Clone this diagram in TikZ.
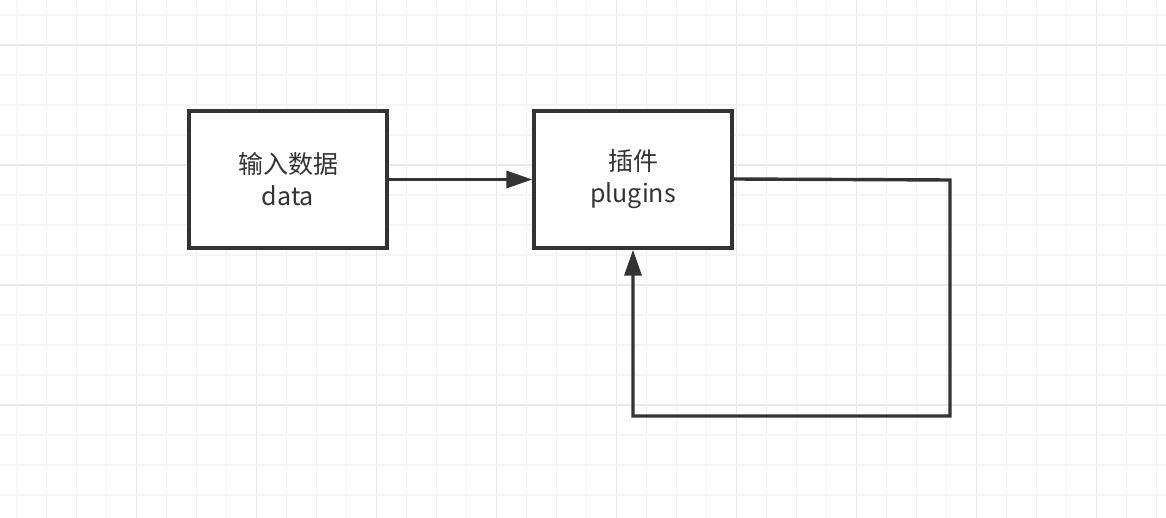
\documentclass[tikz,border=0pt]{standalone}
\usepackage{fontspec}
\setmainfont{Noto Sans CJK SC}
\usetikzlibrary{arrows.meta}
\definecolor{ink}{HTML}{333333}
\definecolor{gridminor}{HTML}{F4F4F4}
\definecolor{gridmajor}{HTML}{EAEAEA}
\tikzset{
  box/.style={draw=ink, line width=3.4pt, fill=white, minimum width=198pt, minimum height=137pt, inner sep=0pt, align=center, text=ink, font=\fontsize{25}{32}\selectfont},
  conn/.style={draw=ink, line width=3.4pt, -{Triangle[length=26pt,width=17pt]}},
}
\begin{document}
\begin{tikzpicture}[x=1pt,y=-1pt]
\useasboundingbox (0,0) rectangle (1166,518);
\fill[white] (0,0) rectangle (1166,518);
% minor grid
\foreach \x in {0,...,38} {
  \draw[gridminor, line width=1.3pt] ({16.7+30*\x},0) -- ({16.7+30*\x},518);
}
\foreach \y in {0,...,17} {
  \draw[gridminor, line width=1.3pt] (0,{15+30*\y}) -- (1166,{15+30*\y});
}
% major grid
\foreach \x in {0,...,8} {
  \draw[gridmajor, line width=1.5pt] ({136.7+120*\x},0) -- ({136.7+120*\x},518);
}
\foreach \y in {0,...,3} {
  \draw[gridmajor, line width=1.5pt] (0,{45+120*\y}) -- (1166,{45+120*\y});
}
\node[box] (data) at (288,179.5) {输入数据\\data};
\node[box] (plug) at (633,179.5) {插件\\plugins};
\coordinate (c1) at (950,180);
\coordinate (c2) at (950,416);
\coordinate (c3) at (633,416);
\draw[conn] (data.east) -- (plug.west);
\draw[conn, line join=miter] ([yshift=0.5pt]plug.east) -- (c1) -- (c2) -- (c3) -- (plug.south);
\end{tikzpicture}
\end{document}
